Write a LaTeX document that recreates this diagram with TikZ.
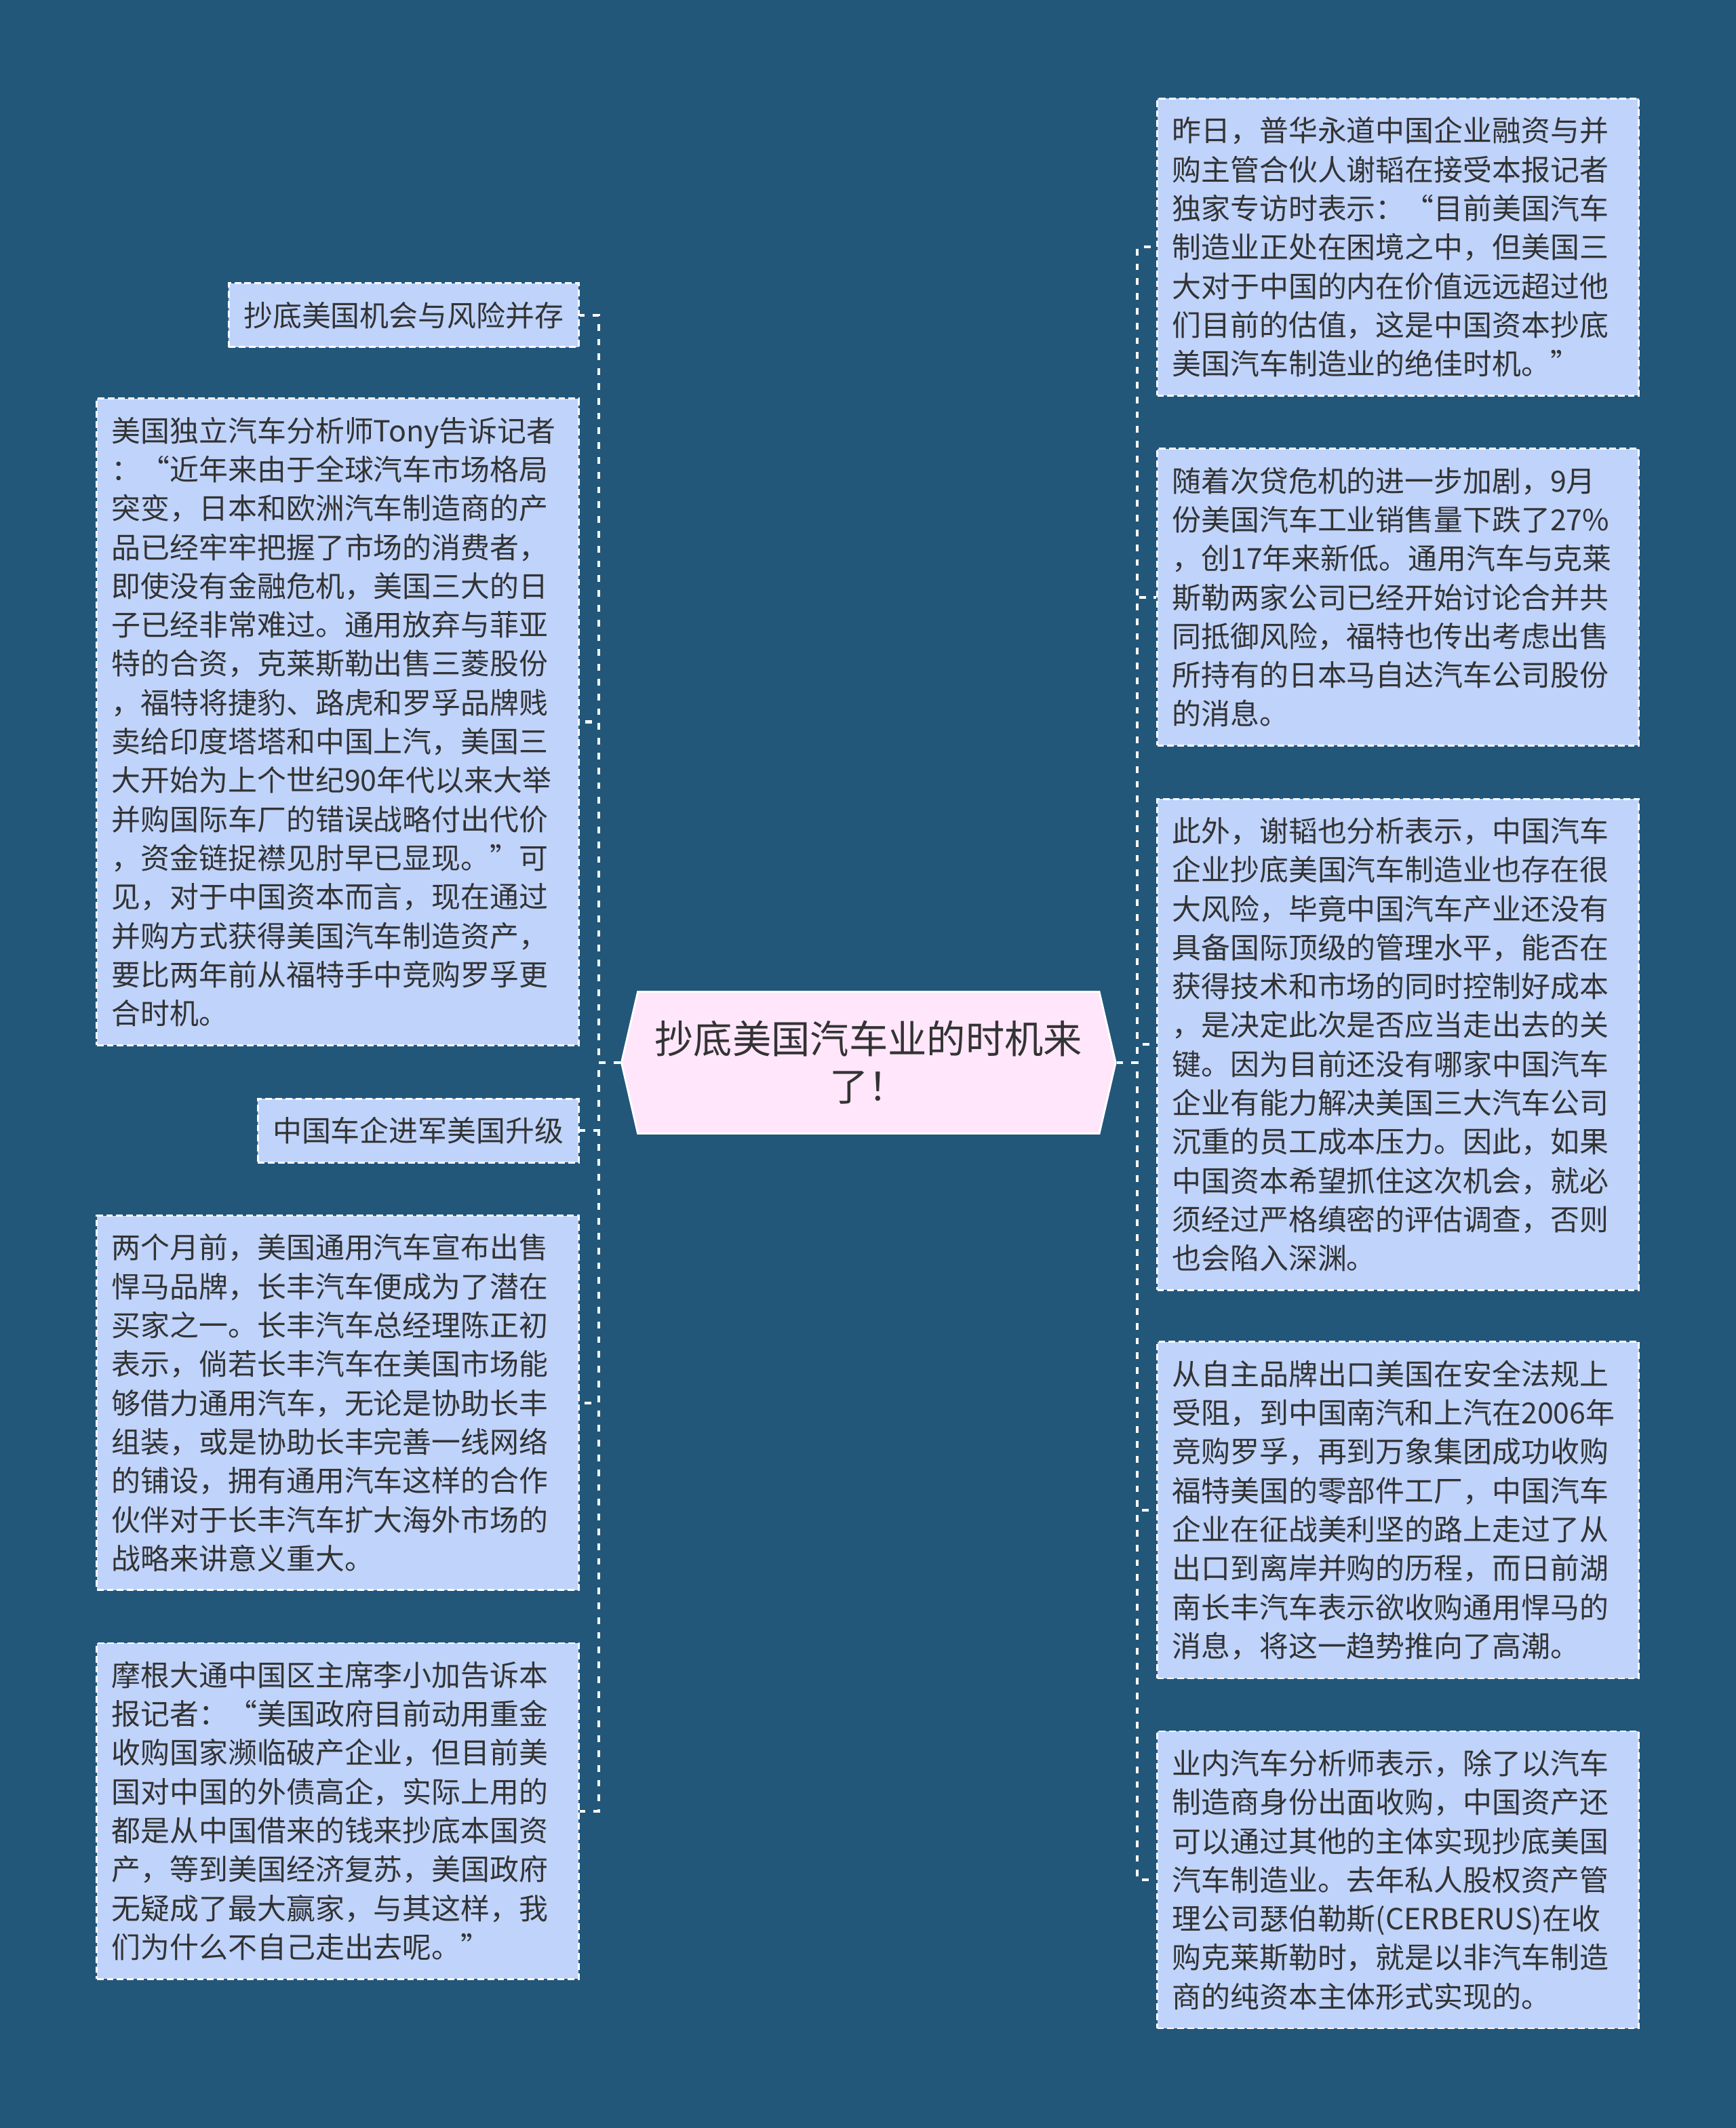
\documentclass[tikz,border=0pt]{standalone}
\usepackage{fontspec}
\setmainfont{Noto Sans CJK SC}
\usetikzlibrary{shapes.symbols}

\definecolor{bgblue}{HTML}{22577A}
\definecolor{boxblue}{HTML}{BFD3FB}
\definecolor{rootpink}{HTML}{FFE6FB}
\definecolor{inkgray}{HTML}{333333}

\tikzset{
  leaf/.style={draw=white, line width=0.8pt, dash pattern=on 2.8pt off 1.4pt,
    fill=boxblue, text=inkgray, inner xsep=0.22cm, inner ysep=0.27cm,
    font=\fontsize{12.2pt}{16.3pt}\selectfont},
  leafwide/.style={leaf, text width=6.66cm, align=left},
  rootbox/.style={signal, signal to=west and east, signal pointer angle=154,
    draw=white, line width=0.8pt, fill=rootpink, text=inkgray, align=center,
    inner xsep=0.25cm, inner ysep=0.43cm,
    font=\fontsize{16.3pt}{19.9pt}\selectfont},
  link/.style={draw=white, line width=1.15pt, dash pattern=on 2.8pt off 3.4pt}
}

\begin{document}
\begin{tikzpicture}[x=0.02cm,y=-0.02cm]
\fill[bgblue] (0,0) rectangle (1279,1568);
\useasboundingbox (0,0) rectangle (1279,1568);

% centre
\node[rootbox] (root) at (640,783) {抄底美国汽车业的时机来\\了！};

% left branch
\node[leaf, anchor=north east] (l1) at (427,208) {抄底美国机会与风险并存};
\node[leafwide, anchor=north east] (l2) at (427,293) {美国独立汽车分析师Tony告诉记者\\%
：“近年来由于全球汽车市场格局\\%
突变，日本和欧洲汽车制造商的产\\%
品已经牢牢把握了市场的消费者，\\%
即使没有金融危机，美国三大的日\\%
子已经非常难过。通用放弃与菲亚\\%
特的合资，克莱斯勒出售三菱股份\\%
，福特将捷豹、路虎和罗孚品牌贱\\%
卖给印度塔塔和中国上汽，美国三\\%
大开始为上个世纪90年代以来大举\\%
并购国际车厂的错误战略付出代价\\%
，资金链捉襟见肘早已显现。”可\\%
见，对于中国资本而言，现在通过\\%
并购方式获得美国汽车制造资产，\\%
要比两年前从福特手中竞购罗孚更\\%
合时机。};
\node[leaf, anchor=north east] (l3) at (427,809) {中国车企进军美国升级};
\node[leafwide, anchor=north east] (l4) at (427,895) {两个月前，美国通用汽车宣布出售\\%
悍马品牌，长丰汽车便成为了潜在\\%
买家之一。长丰汽车总经理陈正初\\%
表示，倘若长丰汽车在美国市场能\\%
够借力通用汽车，无论是协助长丰\\%
组装，或是协助长丰完善一线网络\\%
的铺设，拥有通用汽车这样的合作\\%
伙伴对于长丰汽车扩大海外市场的\\%
战略来讲意义重大。};
\node[leafwide, anchor=north east] (l5) at (427,1210) {摩根大通中国区主席李小加告诉本\\%
报记者：“美国政府目前动用重金\\%
收购国家濒临破产企业，但目前美\\%
国对中国的外债高企，实际上用的\\%
都是从中国借来的钱来抄底本国资\\%
产，等到美国经济复苏，美国政府\\%
无疑成了最大赢家，与其这样，我\\%
们为什么不自己走出去呢。”};

% right branch
\node[leafwide, anchor=north west] (r1) at (852,72) {昨日，普华永道中国企业融资与并\\%
购主管合伙人谢韬在接受本报记者\\%
独家专访时表示：“目前美国汽车\\%
制造业正处在困境之中，但美国三\\%
大对于中国的内在价值远远超过他\\%
们目前的估值，这是中国资本抄底\\%
美国汽车制造业的绝佳时机。”};
\node[leafwide, anchor=north west] (r2) at (852,330) {随着次贷危机的进一步加剧，9月\\%
份美国汽车工业销售量下跌了27\%\\%
，创17年来新低。通用汽车与克莱\\%
斯勒两家公司已经开始讨论合并共\\%
同抵御风险，福特也传出考虑出售\\%
所持有的日本马自达汽车公司股份\\%
的消息。};
\node[leafwide, anchor=north west] (r3) at (852,588) {此外，谢韬也分析表示，中国汽车\\%
企业抄底美国汽车制造业也存在很\\%
大风险，毕竟中国汽车产业还没有\\%
具备国际顶级的管理水平，能否在\\%
获得技术和市场的同时控制好成本\\%
，是决定此次是否应当走出去的关\\%
键。因为目前还没有哪家中国汽车\\%
企业有能力解决美国三大汽车公司\\%
沉重的员工成本压力。因此，如果\\%
中国资本希望抓住这次机会，就必\\%
须经过严格缜密的评估调查，否则\\%
也会陷入深渊。};
\node[leafwide, anchor=north west] (r4) at (852,988) {从自主品牌出口美国在安全法规上\\%
受阻，到中国南汽和上汽在2006年\\%
竞购罗孚，再到万象集团成功收购\\%
福特美国的零部件工厂，中国汽车\\%
企业在征战美利坚的路上走过了从\\%
出口到离岸并购的历程，而日前湖\\%
南长丰汽车表示欲收购通用悍马的\\%
消息，将这一趋势推向了高潮。};
\node[leafwide, anchor=north west] (r5) at (852,1275) {业内汽车分析师表示，除了以汽车\\%
制造商身份出面收购，中国资产还\\%
可以通过其他的主体实现抄底美国\\%
汽车制造业。去年私人股权资产管\\%
理公司瑟伯勒斯(CERBERUS)在收\\%
购克莱斯勒时，就是以非汽车制造\\%
商的纯资本主体形式实现的。};

% connectors
\coordinate (lbus) at (441,783);
\coordinate (rbus) at (838,783);
\draw[link] (root.west) -- (lbus) |- (l1.east);
\draw[link] (root.west) -- (lbus) |- (l2.east);
\draw[link] (root.west) -- (lbus) |- (l3.east);
\draw[link] (root.west) -- (lbus) |- (l4.east);
\draw[link] (root.west) -- (lbus) |- (l5.east);
\draw[link] (root.east) -- (rbus) |- (r1.west);
\draw[link] (root.east) -- (rbus) |- (r2.west);
\draw[link] (root.east) -- (rbus) |- (r3.west);
\draw[link] (root.east) -- (rbus) |- (r4.west);
\draw[link] (root.east) -- (rbus) |- (r5.west);
\end{tikzpicture}
\end{document}
